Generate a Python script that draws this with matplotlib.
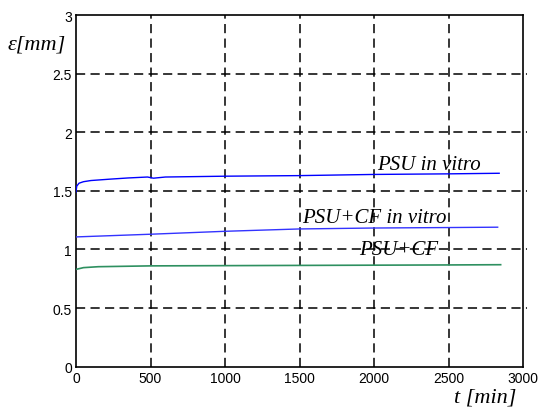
import matplotlib.pyplot as plt
import numpy as np

# creep data
t_psu_vitro = [0, 5, 20, 50, 100, 230, 350, 480, 520, 600, 1000, 1500, 2000, 2500, 2840]
e_psu_vitro = [1.49, 1.54, 1.565, 1.578, 1.588, 1.60, 1.61, 1.618, 1.608, 1.618, 1.625, 1.63, 1.64, 1.645, 1.65]

t_cf_vitro = [0, 500, 1000, 1500, 2000, 2500, 2830]
e_cf_vitro = [1.107, 1.13, 1.155, 1.175, 1.183, 1.187, 1.19]

t_cf = [0, 50, 150, 500, 1000, 1500, 2000, 2500, 2850]
e_cf = [0.83, 0.845, 0.853, 0.86, 0.862, 0.864, 0.866, 0.868, 0.87]

xticks = [0, 500, 1000, 1500, 2000, 2500, 3000]
yticks = [0, 0.5, 1, 1.5, 2, 2.5, 3]

fig = plt.figure(figsize=(5.39, 4.10), dpi=100)
ax = fig.add_axes([76 / 539, 1 - 367.7 / 410, 447 / 539, 351.7 / 410])

# dashed grid, running a bit past the right edge like the original
for y in yticks[1:-1]:
    ax.plot([0, 3030], [y, y], color='black', ls=(0, (6, 3.5)), lw=1.1, clip_on=False, zorder=1)
for x in xticks[1:-1]:
    ax.plot([x, x], [0, 3], color='black', ls=(0, (6, 3.5)), lw=1.1, zorder=1)

ax.plot(t_psu_vitro, e_psu_vitro, color='#0000ff', lw=1.0, zorder=3)
ax.plot(t_cf_vitro, e_cf_vitro, color='#3333ff', lw=1.0, zorder=3)
ax.plot(t_cf, e_cf, color='#2e9060', lw=1.2, zorder=3)

tf = dict(family='Liberation Serif', style='italic', fontsize=15)
ax.text(2020, 1.69, 'PSU in vitro', **tf)
ax.text(1520, 1.235, 'PSU+CF in vitro', **tf)
ax.text(1900, 0.965, 'PSU+CF', **tf)

ax.set_xlim(0, 3000)
ax.set_ylim(0, 3)
ax.set_xticks(xticks)
ax.set_yticks(yticks)
ax.set_xticklabels([str(x) for x in xticks])
ax.set_yticklabels(['0', '0.5', '1', '1.5', '2', '2.5', '3'])
ax.tick_params(length=0, labelsize=10, pad=3)
for lab in ax.get_xticklabels() + ax.get_yticklabels():
    lab.set_family('Liberation Sans')
for s in ax.spines.values():
    s.set_linewidth(1.2)

fig.text(8 / 539, 1 - 45 / 410, 'ε[mm]', family='Liberation Serif', style='italic',
         fontsize=16, va='center', ha='left')
fig.text(516 / 539, 1 - 398 / 410, 't [min]', family='Liberation Serif', style='italic',
         fontsize=16, va='center', ha='right')

fig.savefig('out.png', dpi=100)
